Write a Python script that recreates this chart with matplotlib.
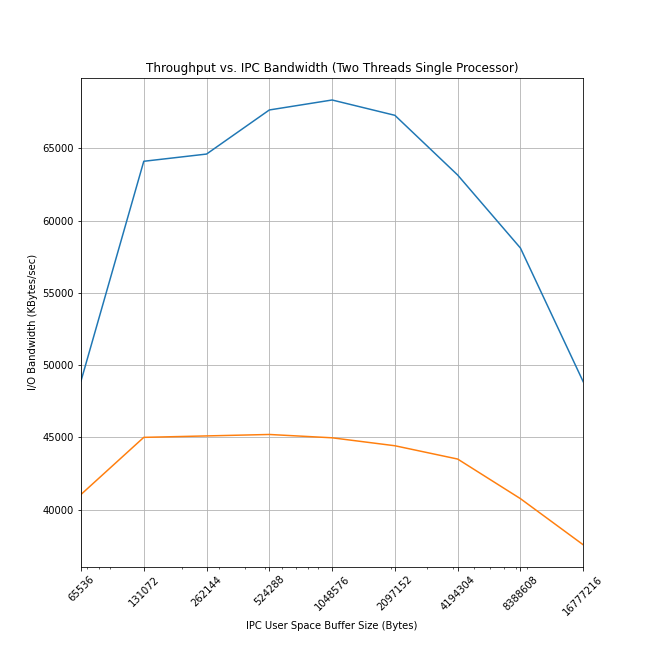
#!/usr/bin/env python3
"""Throughput vs. IPC bandwidth, two threads on one processor."""
import matplotlib
matplotlib.use("Agg")
import matplotlib.pyplot as plt

# buffer sizes (bytes) and measured bandwidth (KBytes/sec)
buffer_sizes = [65536, 131072, 262144, 524288, 1048576, 2097152, 4194304, 8388608, 16777216]
throughput = [48900, 64100, 64600, 67650, 68340, 67280, 63150, 58100, 48850]
ipc_bandwidth = [41050, 45000, 45100, 45200, 44970, 44420, 43500, 40760, 37570]


def main() -> None:
    fig = plt.figure(figsize=(9, 9), dpi=72)
    ax = fig.add_subplot(111)
    fig.subplots_adjust(bottom=0.125)

    ax.plot(buffer_sizes, throughput)
    ax.plot(buffer_sizes, ipc_bandwidth)
    ax.set_xscale("log")
    ax.set_xlim(buffer_sizes[0], buffer_sizes[-1])
    ax.set_xticks(buffer_sizes)
    ax.set_xticklabels([str(s) for s in buffer_sizes], rotation=45)
    ax.grid(True)

    ax.set_title("Throughput vs. IPC Bandwidth (Two Threads Single Processor)")
    ax.set_xlabel("IPC User Space Buffer Size (Bytes)")
    ax.set_ylabel("I/O Bandwidth (KBytes/sec)")

    fig.savefig("out.png", dpi=72)
    plt.close(fig)


if __name__ == "__main__":
    main()
